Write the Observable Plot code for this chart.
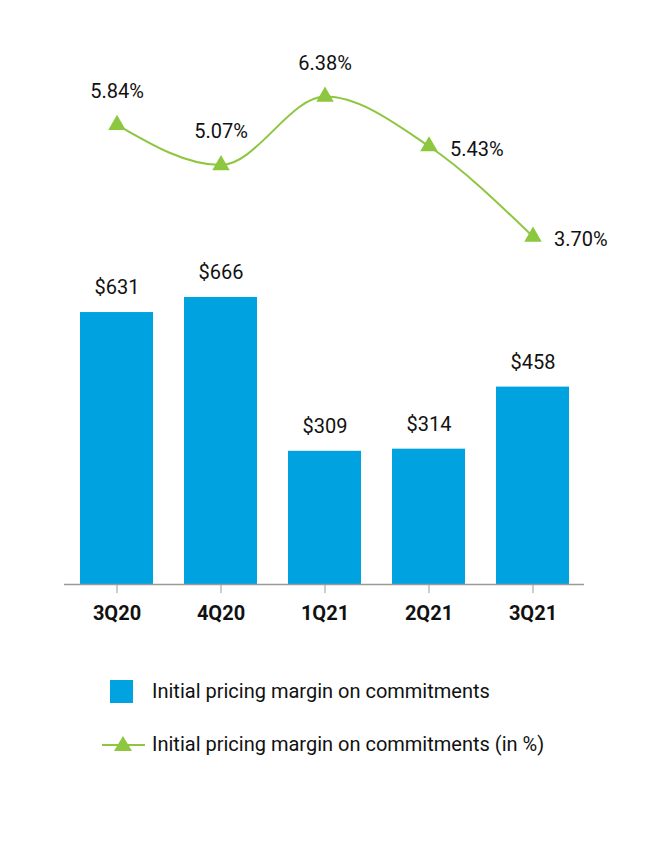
<!DOCTYPE html>
<html>
<head>
<meta charset="utf-8">
<script src="https://cdn.jsdelivr.net/npm/d3@7"></script>
<script src="https://cdn.jsdelivr.net/npm/@observablehq/plot@0.6"></script>
<style>
  body { margin: 0; background: #fff; font-family: Roboto, sans-serif; }
  #chart { width: 648px; }
  .legend { position: relative; width: 648px; height: 202px; font-size: 20px; color: #111; }
  .row { position: absolute; left: 0; display: flex; align-items: center; }
  .row span { position: absolute; left: 152px; white-space: nowrap; }
</style>
</head>
<body>
<div id="chart"></div>
<script>
const quarters = ["3Q20", "4Q20", "1Q21", "2Q21", "3Q21"];
const marginValues = [631, 666, 309, 314, 458];
const marginPct = [5.84, 5.07, 6.38, 5.43, 3.70];
const pctLabelSide = ["top", "top", "top", "right", "right"];
const seriesNames = ["Initial pricing margin on commitments", "Initial pricing margin on commitments (in %)"];

const blue = "#00A3E0";
const green = "#8DC63F";

const data = quarters.map((q, i) => ({q, v: marginValues[i], p: marginPct[i], side: pctLabelSide[i]}));

// secondary axis: map percentage to the primary (bar) y scale units
const pctToY = d3.scaleLinear().domain([3.70, 6.38]).range([807, 1132]);

const font = 'Roboto, sans-serif';

const chart = Plot.plot({
  width: 648,
  height: 640,
  marginLeft: 64,
  marginRight: 64,
  marginTop: 0,
  marginBottom: 56,
  style: {fontFamily: font, fontSize: "20px", color: "#111"},
  x: {domain: quarters, paddingInner: 0.3, paddingOuter: 0.15, label: null},
  y: {domain: [0, 1355], axis: null},
  marks: [
    Plot.barY(data, {x: "q", y: "v", fill: blue}),
    Plot.ruleY([0], {stroke: "#9a9a9a", strokeWidth: 1.5}),
    Plot.axisX({tickSize: 9, stroke: "#9a9a9a", tickPadding: 12, fontWeight: "bold", fontSize: 20, label: null}),
    Plot.text(data, {x: "q", y: "v", text: d => "$" + d.v, dy: -25, fontSize: 20, fill: "#111"}),
    Plot.line(data, {x: "q", y: d => pctToY(d.p), stroke: green, strokeWidth: 2, curve: "monotone-x"}),
    Plot.dot(data, {x: "q", y: d => pctToY(d.p), symbol: "triangle", r: 6.5, fill: green, stroke: "none"}),
    Plot.text(data.filter(d => d.side === "top"), {x: "q", y: d => pctToY(d.p), text: d => d.p.toFixed(2) + "%", dy: -33, fontSize: 20, fill: "#111"}),
    Plot.text(data.filter(d => d.side === "right"), {x: "q", y: d => pctToY(d.p), text: d => d.p.toFixed(2) + "%", dx: 21, dy: 3, textAnchor: "start", fontSize: 20, fill: "#111"})
  ]
});
document.getElementById("chart").appendChild(chart);

// legend
const legend = document.createElement("div");
legend.className = "legend";
legend.innerHTML = `
  <div class="row" style="top:40px;height:24px;">
    <svg width="150" height="24" style="position:absolute;left:0;top:0"><rect x="110" y="0" width="23" height="23" fill="${blue}"/></svg>
    <span style="top:-1px">${seriesNames[0]}</span>
  </div>
  <div class="row" style="top:93px;height:24px;">
    <svg width="150" height="24" style="position:absolute;left:0;top:0"><line x1="102" x2="145" y1="12" y2="12" stroke="${green}" stroke-width="2"/><path d="M123,3 L132,18 L114,18 Z" fill="${green}"/></svg>
    <span style="top:-1px">${seriesNames[1]}</span>
  </div>`;
document.body.appendChild(legend);
</script>
</body>
</html>
